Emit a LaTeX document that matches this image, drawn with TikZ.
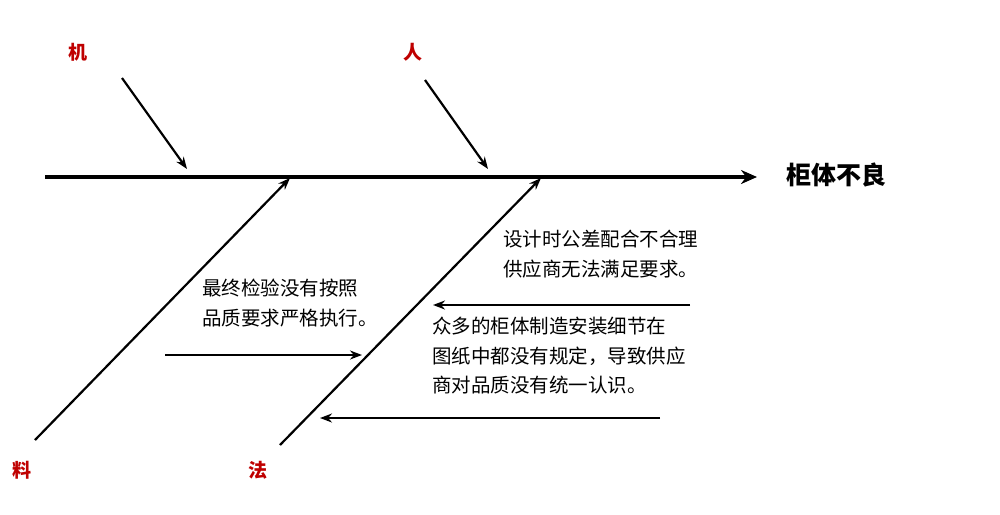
\documentclass[tikz,border=0pt]{standalone}
\usepackage{fontspec}
\setmainfont{Noto Sans CJK SC}
\usetikzlibrary{arrows.meta}
\begin{document}
\begin{tikzpicture}[x=1pt,y=-1pt,
  lab/.style={text=red!75!black,font=\fontsize{19}{19}\selectfont\bfseries},
  txt/.style={font=\fontsize{19.5}{29.5}\selectfont,align=left,anchor=north west,inner sep=0},
  br/.style={line width=2.2pt,-{Stealth[length=12pt,width=9pt]}}]
\useasboundingbox[fill=white] (0,0) rectangle (1000,514);
\coordinate (s0) at (45,177); \coordinate (s1) at (757,177);
\draw[line width=3.8pt,-{Stealth[length=16pt,width=14pt]}] (s0) -- (s1);
\node[font=\fontsize{25}{25}\selectfont\bfseries,anchor=west] (goal) at (783,175) {柜体不良};
\node[lab] (ji) at (78,52) {机};
\node[lab] (ren) at (413,52) {人};
\node[lab] (liao) at (22,470) {料};
\node[lab] (fa) at (258,470) {法};
\coordinate (a0) at (122,78); \coordinate (a1) at (187,169);
\coordinate (b0) at (425,80); \coordinate (b1) at (488,169);
\coordinate (c0) at (35,440); \coordinate (c1) at (290,178);
\coordinate (d0) at (280,445); \coordinate (d1) at (541,178);
\draw[br] (a0) -- (a1);
\draw[br] (b0) -- (b1);
\draw[br] (c0) -- (c1);
\draw[br] (d0) -- (d1);
\node[txt] (t1) at (202,279) {最终检验没有按照\\品质要求严格执行。};
\node[txt] (t2) at (503,230) {设计时公差配合不合理\\供应商无法满足要求。};
\node[txt] (t3) at (432,317) {众多的柜体制造安装细节在\\图纸中都没有规定，导致供应\\商对品质没有统一认识。};
\coordinate (e0) at (165,355); \coordinate (e1) at (362,355);
\coordinate (f0) at (690,305); \coordinate (f1) at (433,305);
\coordinate (g0) at (660,418); \coordinate (g1) at (320,418);
\draw[br] (e0) -- (e1);
\draw[br] (f0) -- (f1);
\draw[br] (g0) -- (g1);
\end{tikzpicture}
\end{document}
